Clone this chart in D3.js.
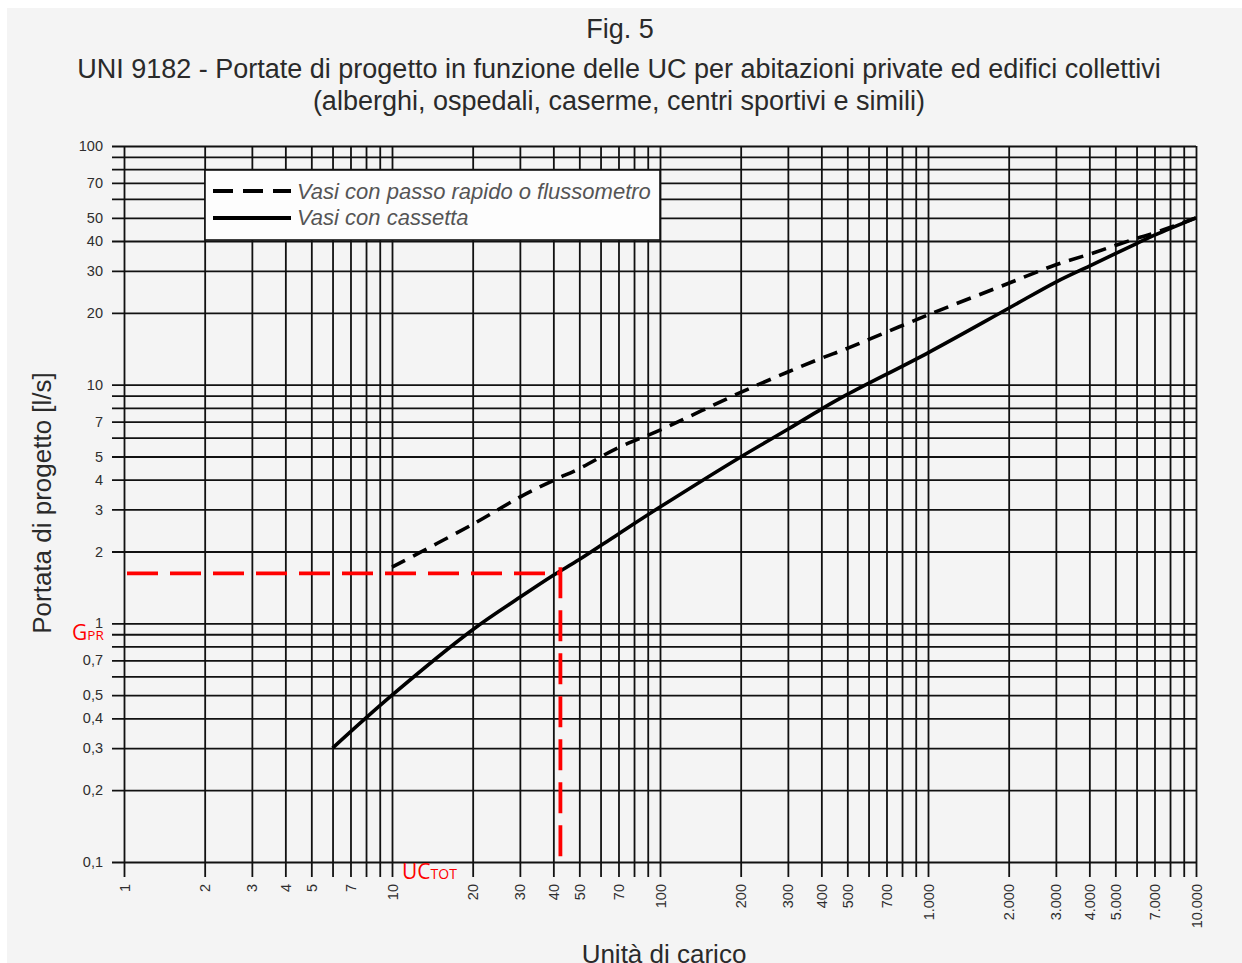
<!DOCTYPE html>
<html>
<head>
<meta charset="utf-8">
<script src="https://cdn.jsdelivr.net/npm/d3@7"></script>
<style>
  body { margin: 0; background: #ffffff; }
  svg { display: block; }
  .axis text { font-family: "Liberation Sans", Arial, sans-serif; font-size: 14.5px; fill: #2e2e2e; }
  .axis line { stroke: #111; stroke-width: 1.8; }
  .chartTitle { font-family: "Liberation Sans", Arial, sans-serif; fill: #2a2a2a; }
</style>
</head>
<body>
<div class="chartWrap"></div>
<script>
//Data (UC -> l/s)
const ucCassetta = [6, 10, 20, 30, 40, 50, 70, 100, 200, 300, 400, 500, 1000, 2000, 3000, 4000, 5000, 6000, 7000, 10000];
const qCassetta = [0.3, 0.5, 0.94, 1.285, 1.59, 1.85, 2.37, 3.07, 4.98, 6.5, 7.9, 9.1, 13.6, 20.9, 26.9, 31.4, 35.4, 39.0, 42.3, 50];
const ucFlusso = [10, 20, 30, 40, 50, 70, 100, 200, 300, 400, 500, 1000, 2000, 3000, 4000, 5000, 6000, 7000, 10000];
const qFlusso = [1.72, 2.6, 3.38, 3.97, 4.45, 5.45, 6.45, 9.28, 11.3, 12.9, 14.2, 19.6, 26.6, 31.8, 35.2, 38.3, 41.0, 43.2, 50];

//Tick labels
const xLabels = [1, 2, 3, 4, 5, 7, 10, 20, 30, 40, 50, 70, 100, 200, 300, 400, 500, 700, 1000, 2000, 3000, 4000, 5000, 7000, 10000];
const yLabels = [0.1, 0.2, 0.3, 0.4, 0.5, 0.7, 1, 2, 3, 4, 5, 7, 10, 20, 30, 40, 50, 70, 100];
const xDecades = [1, 10, 100, 1000];
const yDecades = [0.1, 1, 10];

//Example reading (red)
const ucTot = 42.5;
const gPr = 1.62;

//Variables
let width = 1242,
    height = 963,
    padLeft = 124, padRight = 1196, padTop = 146, padBottom = 862;

let it = d3.formatLocale({decimal: ",", thousands: ".", grouping: [3], currency: ["", "€"]});
let fmtX = it.format(",d");
let fmtY = function(v) { return v < 1 ? it.format(",.1f")(v) : String(v); };

//Grid values: every unit of each decade
let xGrid = [], yGrid = [];
xDecades.forEach(function(d) { for (let k = 1; k < 10; k++) xGrid.push(k * d); });
xGrid.push(10000);
yDecades.forEach(function(d) { for (let k = 1; k < 10; k++) yGrid.push(+(k * d).toFixed(1)); });
yGrid.push(100);

let canvas = d3.select(".chartWrap").append("svg").attr("width", width).attr("height", height);
canvas.append("rect").attr("x", 7).attr("y", 8).attr("width", width - 7).attr("height", height - 8).attr("fill", "#f4f4f4");

let xScale = d3.scaleLog().domain([1, 10000]).range([padLeft, padRight]);
let yScale = d3.scaleLog().domain([0.1, 100]).range([padBottom, padTop]);

//Y axis = horizontal grid lines (they stick out left of the plot)
let yAxis = d3.axisLeft(yScale)
  .tickValues(yGrid)
  .tickSize(-(padRight - 112))
  .tickPadding(9)
  .tickFormat(function(v) { return yLabels.indexOf(v) >= 0 ? fmtY(v) : ""; });
canvas.append("g").attr("class", "axis").attr("transform", "translate(112,0)").call(yAxis)
  .call(function(g) { g.select(".domain").remove(); });

//X axis = vertical grid lines (they stick out below the plot)
let xAxis = d3.axisBottom(xScale)
  .tickValues(xGrid)
  .tickSize(-(877 - padTop))
  .tickPadding(7)
  .tickFormat(function(v) { return xLabels.indexOf(v) >= 0 ? fmtX(v) : ""; });
let gx = canvas.append("g").attr("class", "axis").attr("transform", "translate(0,877)").call(xAxis);
gx.select(".domain").remove();
gx.selectAll("text")
  .attr("transform", "rotate(-90)")
  .attr("x", -7).attr("y", 0).attr("dy", "0.35em")
  .attr("text-anchor", "end");

//Curves
let line = d3.line().x(function(d) { return xScale(d[0]); }).y(function(d) { return yScale(d[1]); }).curve(d3.curveCatmullRom.alpha(0.5));
canvas.append("path")
  .attr("d", line(d3.zip(ucFlusso, qFlusso)))
  .attr("fill", "none").attr("stroke", "#000").attr("stroke-width", 3.6)
  .attr("stroke-dasharray", "15,9");
canvas.append("path")
  .attr("d", line(d3.zip(ucCassetta, qCassetta)))
  .attr("fill", "none").attr("stroke", "#000").attr("stroke-width", 3.6);

//Red example lines
canvas.append("line")
  .attr("x1", xScale(1) + 3).attr("x2", xScale(ucTot))
  .attr("y1", yScale(gPr)).attr("y2", yScale(gPr))
  .attr("stroke", "#ff0000").attr("stroke-width", 3.8).attr("stroke-dasharray", "31,12");
canvas.append("line")
  .attr("x1", xScale(ucTot)).attr("x2", xScale(ucTot))
  .attr("y1", yScale(gPr) - 6).attr("y2", yScale(0.104))
  .attr("stroke", "#ff0000").attr("stroke-width", 3.8).attr("stroke-dasharray", "31,12");

let gLabel = canvas.append("text").attr("x", 72).attr("y", 640)
  .attr("font-family", "'Open Sans', sans-serif").attr("fill", "#ff0000");
gLabel.append("tspan").attr("font-size", 21).text("G");
gLabel.append("tspan").attr("font-size", 13.5).text("PR");
let ucLabel = canvas.append("text").attr("x", 402).attr("y", 879)
  .attr("font-family", "'Open Sans', sans-serif").attr("fill", "#ff0000");
ucLabel.append("tspan").attr("font-size", 21).text("UC");
ucLabel.append("tspan").attr("font-size", 14).text("TOT");

//Legend
canvas.append("rect").attr("x", 205).attr("y", 170).attr("width", 455).attr("height", 70)
  .attr("fill", "#fdfdfd").attr("stroke", "#111").attr("stroke-width", 1.6);
canvas.append("line").attr("x1", 213).attr("x2", 291).attr("y1", 191).attr("y2", 191)
  .attr("stroke", "#000").attr("stroke-width", 4).attr("stroke-dasharray", "20,10");
canvas.append("line").attr("x1", 213).attr("x2", 291).attr("y1", 218).attr("y2", 218)
  .attr("stroke", "#000").attr("stroke-width", 4);
canvas.append("text").text("Vasi con passo rapido o flussometro")
  .attr("x", 297).attr("y", 199)
  .attr("font-family", "'Liberation Sans', Arial, sans-serif").attr("font-style", "italic")
  .attr("font-size", 22).attr("fill", "#555");
canvas.append("text").text("Vasi con cassetta")
  .attr("x", 297).attr("y", 225)
  .attr("font-family", "'Liberation Sans', Arial, sans-serif").attr("font-style", "italic")
  .attr("font-size", 22).attr("fill", "#555");

//Titles & axis labels
canvas.append("text").text("Fig. 5")
  .attr("x", 620).attr("y", 38).attr("text-anchor", "middle").attr("font-size", 27).attr("class", "chartTitle");
canvas.append("text").text("UNI 9182 - Portate di progetto in funzione delle UC per abitazioni private ed edifici collettivi")
  .attr("x", 619).attr("y", 78).attr("text-anchor", "middle").attr("font-size", 27).attr("class", "chartTitle");
canvas.append("text").text("(alberghi, ospedali, caserme, centri sportivi e simili)")
  .attr("x", 619).attr("y", 110).attr("text-anchor", "middle").attr("font-size", 27).attr("class", "chartTitle");
canvas.append("text").text("Portata di progetto [l/s]")
  .attr("x", -503).attr("y", 51)
  .attr("text-anchor", "middle").attr("font-size", 26).attr("class", "chartTitle")
  .attr("transform", "rotate(-90)");
canvas.append("text").text("Unità di carico")
  .attr("x", 664).attr("y", 963)
  .attr("text-anchor", "middle").attr("font-size", 26).attr("class", "chartTitle");
</script>
</body>
</html>
